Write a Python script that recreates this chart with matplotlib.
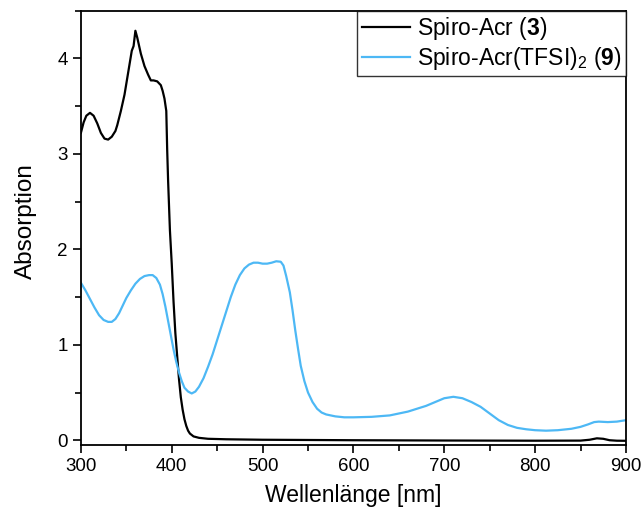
import matplotlib
matplotlib.use("Agg")
import matplotlib.pyplot as plt
from matplotlib.ticker import MultipleLocator

plt.rcParams['font.family'] = ['Liberation Sans', 'DejaVu Sans']
plt.rcParams['mathtext.fontset'] = 'custom'
plt.rcParams['mathtext.rm'] = 'Liberation Sans'
plt.rcParams['mathtext.bf'] = 'Liberation Sans:bold'
plt.rcParams['mathtext.it'] = 'Liberation Sans:italic'

# Spiro-Acr (3)
x_acr = [300, 303, 306, 310, 314, 318, 322, 326, 330, 334, 338, 340, 344, 348, 352,
         356, 358, 360, 362, 366, 370, 374, 377, 380, 384, 388, 390, 392, 394, 395, 396,
         398, 400, 402, 404, 406, 408, 410, 412, 414, 416, 418, 420, 424, 430, 440,
         460, 500, 600, 700, 800, 850, 860, 868, 875, 882, 890, 900]
y_acr = [3.22, 3.33, 3.40, 3.43, 3.40, 3.32, 3.22, 3.16, 3.15, 3.18, 3.24, 3.30, 3.45, 3.62, 3.85,
         4.08, 4.13, 4.29, 4.22, 4.05, 3.92, 3.83, 3.77, 3.77, 3.76, 3.72, 3.66, 3.58, 3.45, 3.04, 2.72,
         2.20, 1.85, 1.45, 1.12, 0.88, 0.64, 0.45, 0.32, 0.22, 0.15, 0.10, 0.07, 0.04, 0.025, 0.015,
         0.01, 0.005, 0.0, -0.003, -0.005, -0.004, 0.005, 0.02, 0.015, 0.0, -0.005, -0.006]

# Spiro-Acr(TFSI)2 (9)
x_tfsi = [300, 305, 310, 315, 320, 325, 330, 334, 338, 342, 346, 350, 355, 360, 365,
          370, 375, 379, 383, 387, 390, 393, 396, 399, 402, 405, 408, 411, 414, 418,
          422, 426, 430, 435, 440, 445, 450, 455, 460, 465, 470, 475, 480, 485, 490,
          495, 500, 505, 510, 515, 520, 523, 526, 530, 533, 536, 539, 542, 546, 550,
          555, 560, 565, 570, 580, 590, 600, 620, 640, 660, 680, 690, 700, 710, 720,
          730, 740, 750, 760, 770, 780, 790, 800, 812, 825, 840, 850, 858, 865, 870,
          880, 890, 900]
y_tfsi = [1.65, 1.57, 1.48, 1.39, 1.31, 1.26, 1.24, 1.24, 1.27, 1.33, 1.41, 1.49, 1.57, 1.64, 1.69,
          1.72, 1.73, 1.73, 1.70, 1.63, 1.53, 1.40, 1.25, 1.10, 0.95, 0.82, 0.71, 0.62, 0.55, 0.51,
          0.49, 0.51, 0.56, 0.65, 0.77, 0.90, 1.05, 1.20, 1.35, 1.50, 1.63, 1.73, 1.80, 1.84, 1.86,
          1.86, 1.85, 1.85, 1.86, 1.875, 1.87, 1.83, 1.72, 1.55, 1.36, 1.15, 0.96, 0.78, 0.62, 0.50,
          0.40, 0.33, 0.29, 0.27, 0.25, 0.24, 0.24, 0.245, 0.26, 0.30, 0.36, 0.40, 0.44, 0.455, 0.44,
          0.40, 0.35, 0.28, 0.21, 0.16, 0.13, 0.115, 0.105, 0.10, 0.105, 0.12, 0.14, 0.165, 0.19, 0.195,
          0.19, 0.195, 0.21]

labels = ['Spiro-Acr ($\\mathbf{3}$)', 'Spiro-Acr(TFSI)$_2$ ($\\mathbf{9}$)']
colors = ['#000000', '#4DB8F5']

fig = plt.figure(figsize=(6.42, 5.16), dpi=100)
ax = fig.add_axes([0.126, 0.1376, 0.849, 0.8416])
ax.plot(x_acr, y_acr, color=colors[0], lw=1.6, label=labels[0])
ax.plot(x_tfsi, y_tfsi, color=colors[1], lw=1.6, label=labels[1])

ax.set_xlim(300, 900)
ax.set_ylim(-0.05, 4.5)
ax.xaxis.set_major_locator(MultipleLocator(100))
ax.xaxis.set_minor_locator(MultipleLocator(50))
ax.yaxis.set_major_locator(MultipleLocator(1))
ax.yaxis.set_minor_locator(MultipleLocator(0.5))
ax.tick_params(which='both', direction='out', width=1.2, labelsize=13.5)
ax.tick_params(which='major', length=6)
ax.tick_params(which='minor', length=4)
for s in ax.spines.values():
    s.set_linewidth(1.3)

ax.set_xlabel('Wellenlänge [nm]', fontsize=16.5, labelpad=6)
ax.set_ylabel('Absorption', fontsize=17.5)
ax.yaxis.set_label_coords(-0.080, 0.515)

leg = ax.legend(loc='upper right', fontsize=16.5, frameon=True, fancybox=False,
                edgecolor='black', borderaxespad=0, handlelength=2.1,
                handletextpad=0.3, borderpad=0.2, labelspacing=0.1)
leg.get_frame().set_linewidth(1.0)

fig.savefig('out.png', dpi=100)
